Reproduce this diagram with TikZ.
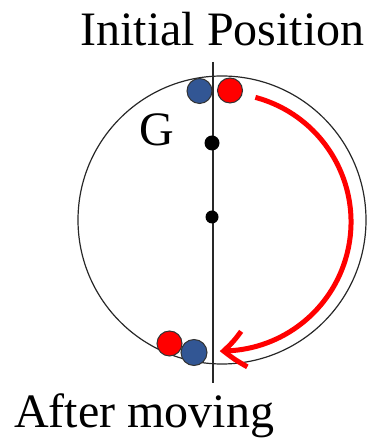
\documentclass[tikz,border=0pt]{standalone}
\usepackage{fontspec}
\setmainfont{Liberation Serif}
\usetikzlibrary{arrows.meta,calc,bending}
\definecolor{ballblue}{RGB}{50,86,148}
\definecolor{ballred}{RGB}{255,0,0}
\definecolor{rimgray}{RGB}{40,40,40}
\begin{document}
\begin{tikzpicture}[x=1pt,y=1pt,
  rim/.style={circle, draw=rimgray, line width=1.2pt, inner sep=0pt, minimum size=288pt},
  axisline/.style={draw=rimgray, line width=1.1pt},
  dot/.style={circle, fill=black, inner sep=0pt},
  ball/.style={circle, draw=black!80, line width=1pt, inner sep=0pt, minimum size=25pt},
  blueball/.style={ball, fill=ballblue},
  redball/.style={ball, fill=ballred},
  motion/.style={draw=ballred, line width=5pt, -{Straight Barb[length=21pt,width=36pt,bend]}},
  label/.style={inner sep=0pt, font=\fontsize{48}{48}\selectfont}
]
\useasboundingbox (0,0) rectangle (370,438);
\node[rim] (rimc) at (222,218) {};
\coordinate (axtop) at (213,376);
\coordinate (axbot) at (213,55);
\draw[axisline] (axtop) -- (axbot);
\node[dot, minimum size=15pt] (g1) at (212,295) {};
\node[dot, minimum size=13pt] (g2) at (212,221) {};
\node[blueball] (b1) at (199.5,347) {};
\node[redball] (r1) at (230,347.5) {};
\node[redball] (r2) at (169.5,94.5) {};
\node[blueball, minimum size=26pt] (b2) at (194,85.5) {};
\coordinate (arcstart) at ($(222,216)+(75:129)$);
\draw[motion] (arcstart) arc[start angle=75, end angle=-91, radius=129];
\node[label, anchor=base] (title) at (222.5,392) {Initial Position};
\node[label, anchor=base west] (after) at (14,10) {After moving};
\node[label, anchor=base west] (gl) at (139,292) {G};
\end{tikzpicture}
\end{document}
